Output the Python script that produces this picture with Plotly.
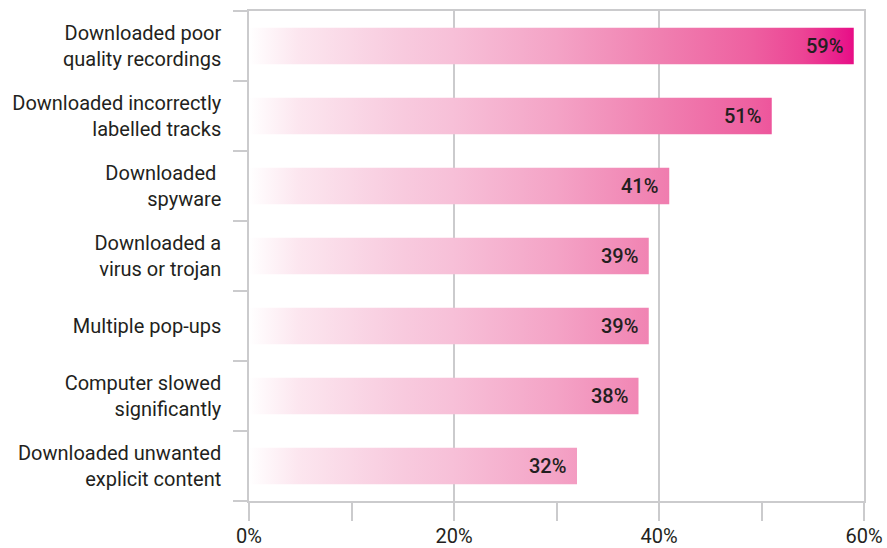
import plotly.graph_objects as go

# Survey results: problems experienced when downloading from unofficial sources
categories = [
    "Downloaded poor<br>quality recordings",
    "Downloaded incorrectly<br>labelled tracks",
    "Downloaded <br>spyware",
    "Downloaded a<br>virus or trojan",
    "Multiple pop-ups",
    "Computer slowed<br>significantly",
    "Downloaded unwanted<br>explicit content",
]
values = [59, 51, 41, 39, 39, 38, 32]

x_ticks = [0, 20, 40, 60]
x_tick_labels = ["0%", "20%", "40%", "60%"]
x_minor_ticks = [10, 30, 50]

TEXT = "#231f20"
GRID = "#cbcbcd"
FONT = "Roboto"
HALF = 0.26  # half bar thickness in category units

# white -> pink -> magenta gradient laid along the whole 0-60% scale
gradient = [
    [0.00, "#ffffff"],
    [0.08, "#fce6ef"],
    [0.25, "#f8cade"],
    [0.33, "#f7c0d8"],
    [0.50, "#f4a3c6"],
    [0.67, "#f07fb0"],
    [0.82, "#ee5fa0"],
    [0.90, "#ec4595"],
    [0.97, "#e8178a"],
    [1.00, "#e6007e"],
]

fig = go.Figure()

for i, v in enumerate(values):
    fig.add_trace(go.Scatter(
        x=[0, v, v, 0, 0],
        y=[i - HALF, i - HALF, i + HALF, i + HALF, i - HALF],
        mode="lines",
        line=dict(width=0),
        fill="toself",
        fillgradient=dict(type="horizontal", colorscale=gradient,
                          start=x_ticks[0], stop=x_ticks[-1]),
        hoverinfo="skip",
        showlegend=False,
    ))
    fig.add_annotation(
        x=v, y=i, text=f"{v}%", showarrow=False,
        xanchor="right", yanchor="middle", xshift=-9,
        font=dict(family=FONT, size=20, color=TEXT, weight=500),
    )

fig.update_layout(
    width=887, height=548,
    margin=dict(l=249, r=23, t=11, b=47, autoexpand=False),
    plot_bgcolor="white", paper_bgcolor="white",
    font=dict(family=FONT, size=20, color=TEXT),
)

fig.update_xaxes(
    range=[x_ticks[0], x_ticks[-1]],
    tickmode="array", tickvals=x_ticks, ticktext=x_tick_labels,
    ticks="outside", ticklen=18, tickwidth=1.5, tickcolor=GRID,
    showgrid=True, gridcolor=GRID, gridwidth=1.5,
    zeroline=False,
    showline=True, linecolor=GRID, linewidth=1.5, mirror=True,
    minor=dict(tickmode="array", tickvals=x_minor_ticks, ticks="outside",
               ticklen=18, tickwidth=1.5, tickcolor=GRID, showgrid=False),
    ticklabelstandoff=-2,
    tickfont=dict(family=FONT, size=20, color=TEXT),
    automargin=False,
)

fig.update_yaxes(
    range=[len(values) - 0.5, -0.5],
    tickmode="array", tickvals=list(range(len(categories))), ticktext=categories,
    ticks="", showgrid=False, zeroline=False,
    showline=True, linecolor=GRID, linewidth=1.5, mirror=True,
    minor=dict(tickmode="array",
               tickvals=[k - 0.5 for k in range(len(categories) + 1)],
               ticks="outside", ticklen=14, tickwidth=1.5, tickcolor=GRID,
               showgrid=False),
    ticklabelstandoff=22,
    tickfont=dict(family=FONT, size=20, color=TEXT),
    automargin=False,
)

fig.write_html("out.html")
